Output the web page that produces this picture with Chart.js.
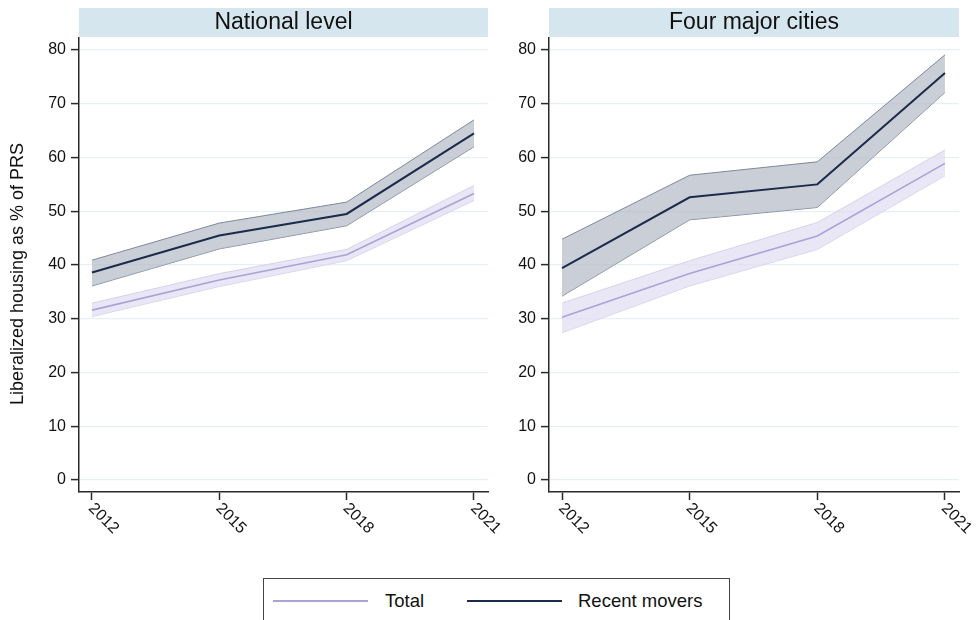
<!DOCTYPE html>
<html>
<head>
<meta charset="utf-8">
<script src="https://cdn.jsdelivr.net/npm/chart.js@4/dist/chart.umd.min.js"></script>
<style>
  html, body { margin: 0; padding: 0; background: #ffffff; }
  body { width: 977px; height: 620px; position: relative; overflow: hidden;
         font-family: "Liberation Sans", Arial, sans-serif; }
  #wrapL { position: absolute; left: 0; top: 0; width: 520px; height: 560px; }
  #wrapR { position: absolute; left: 490px; top: 0; width: 487px; height: 560px; }
  #legend { position: absolute; left: 263px; top: 578px; width: 467px; height: 60px;
            border: 1.5px solid #444; box-sizing: border-box; }
  .item { position: absolute; top: 10px; height: 24px; font-size: 18.5px; color: #111; line-height: 24px; }
  .swatch { position: absolute; top: 21px; height: 2px; }
</style>
</head>
<body>
<div id="wrapL"><canvas id="chartL"></canvas></div>
<div id="wrapR"><canvas id="chartR"></canvas></div>
<div id="legend"></div>

<script>
// Survey years and axis ticks
const years = [2012, 2015, 2018, 2021];
const yTicks = [0, 10, 20, 30, 40, 50, 60, 70, 80];
const panelTitles = ["National level", "Four major cities"];
const seriesNames = ["Total", "Recent movers"];
const yAxisTitle = "Liberalized housing as % of PRS";

// National level: point estimates with 95% confidence bounds
const natTotal      = [31.6, 37.2, 41.9, 53.3];
const natTotalLow   = [30.4, 36.0, 40.8, 52.0];
const natTotalHigh  = [32.9, 38.4, 42.9, 54.8];
const natMovers     = [38.6, 45.5, 49.5, 64.5];
const natMoversLow  = [36.1, 43.0, 47.3, 62.0];
const natMoversHigh = [40.9, 47.8, 51.7, 67.0];

// Four major cities
const cityTotal      = [30.3, 38.4, 45.4, 58.9];
const cityTotalLow   = [27.4, 36.1, 42.9, 56.6];
const cityTotalHigh  = [32.9, 40.8, 47.9, 61.4];
const cityMovers     = [39.4, 52.6, 55.0, 75.7];
const cityMoversLow  = [34.2, 48.4, 50.7, 72.1];
const cityMoversHigh = [44.8, 56.7, 59.2, 79.1];

const FONT = '"Liberation Sans", Arial, sans-serif';
const COL = {
  totalLine: '#aaa3d6',
  totalBand: 'rgba(226, 222, 243, 0.75)',
  totalEdge: '#d6d1ec',
  moversLine: '#1c2b4b',
  moversBand: 'rgba(180, 187, 200, 0.72)',
  moversEdge: '#7e889a',
  grid: '#e6f0f4',
  strip: '#d6e6ee',
  axis: '#2a2a2a'
};

function pts(vals) { return years.map((y, i) => ({ x: y, y: vals[i] })); }

function buildDatasets(tot, totLo, totHi, mov, movLo, movHi) {
  return [
    { label: 'tHigh', data: pts(totHi), borderColor: COL.totalEdge, borderWidth: 1,
      backgroundColor: COL.totalBand, fill: '+1', pointRadius: 0, order: 4 },
    { label: 'tLow', data: pts(totLo), borderColor: COL.totalEdge, borderWidth: 1,
      fill: false, pointRadius: 0, order: 4 },
    { label: 'mHigh', data: pts(movHi), borderColor: COL.moversEdge, borderWidth: 1,
      backgroundColor: COL.moversBand, fill: '+1', pointRadius: 0, order: 3 },
    { label: 'mLow', data: pts(movLo), borderColor: COL.moversEdge, borderWidth: 1,
      fill: false, pointRadius: 0, order: 3 },
    { label: seriesNames[0], data: pts(tot), borderColor: COL.totalLine, borderWidth: 1.6,
      fill: false, pointRadius: 0, order: 2 },
    { label: seriesNames[1], data: pts(mov), borderColor: COL.moversLine, borderWidth: 2,
      fill: false, pointRadius: 0, order: 1 }
  ];
}

// Panel header strip drawn above the plot area
const stripPlugin = {
  id: 'strip',
  beforeDraw(chart, args, opts) {
    const { ctx, chartArea } = chart;
    ctx.save();
    ctx.fillStyle = COL.strip;
    ctx.fillRect(chartArea.left, 8, chartArea.right - chartArea.left, 29);
    ctx.fillStyle = '#111';
    ctx.font = '23px ' + FONT;
    ctx.textAlign = 'center';
    ctx.textBaseline = 'middle';
    ctx.fillText(opts.text, (chartArea.left + chartArea.right) / 2, 23);
    ctx.restore();
  }
};

// Year labels, slanted downward to the right from each tick
const slantLabels = {
  id: 'slantLabels',
  afterDraw(chart) {
    const { ctx, chartArea } = chart;
    const xs = chart.scales.x;
    ctx.save();
    ctx.fillStyle = '#111';
    ctx.font = '16px ' + FONT;
    ctx.textAlign = 'left';
    ctx.textBaseline = 'middle';
    years.forEach(yr => {
      const px = xs.getPixelForValue(yr);
      ctx.save();
      ctx.translate(px - 1, chartArea.bottom + 14);
      ctx.rotate(Math.PI / 4);
      ctx.fillText(String(yr), 0, 0);
      ctx.restore();
    });
    ctx.restore();
  }
};

// Vertical axis caption on the left panel
const yCaption = {
  id: 'yCaption',
  afterDraw(chart, args, opts) {
    if (!opts.show) return;
    const { ctx } = chart;
    ctx.save();
    ctx.fillStyle = '#111';
    ctx.font = '18px ' + FONT;
    ctx.textAlign = 'center';
    ctx.textBaseline = 'middle';
    ctx.translate(18, 274);
    ctx.rotate(-Math.PI / 2);
    ctx.fillText(yAxisTitle, 0, 0);
    ctx.restore();
  }
};

function makeChart(id, title, datasets, yWidth, padRight, showCaption) {
  return new Chart(document.getElementById(id), {
    type: 'line',
    data: { datasets },
    plugins: [stripPlugin, slantLabels, yCaption],
    options: {
      responsive: true,
      maintainAspectRatio: false,
      animation: false,
      layout: { padding: { top: 38, right: padRight, bottom: 0, left: 0 } },
      elements: { line: { tension: 0 } },
      plugins: {
        legend: { display: false },
        tooltip: { enabled: false },
        strip: { text: title },
        yCaption: { show: showCaption }
      },
      scales: {
        x: {
          type: 'linear',
          min: 2011.694,
          max: 2021.33,
          afterBuildTicks: s => { s.ticks = years.map(v => ({ value: v })); },
          afterFit: s => { s.height = 68; },
          ticks: { display: false },
          grid: { drawOnChartArea: false, drawTicks: true, tickLength: 8,
                  tickColor: COL.axis, tickWidth: 1.5 },
          border: { display: true, color: COL.axis, width: 1.5 }
        },
        y: {
          type: 'linear',
          min: -2.233,
          max: 82.233,
          afterBuildTicks: s => { s.ticks = yTicks.map(v => ({ value: v })); },
          afterFit: s => { s.width = yWidth; },
          ticks: { color: '#111', font: { family: FONT, size: 16 }, padding: 5 },
          grid: { color: COL.grid, lineWidth: 1.2, drawTicks: true, tickLength: 8,
                  tickColor: COL.axis, tickWidth: 1.5 },
          border: { display: true, color: COL.axis, width: 1.5 }
        }
      }
    }
  });
}

makeChart('chartL', panelTitles[0],
  buildDatasets(natTotal, natTotalLow, natTotalHigh, natMovers, natMoversLow, natMoversHigh),
  79, 32, true);
makeChart('chartR', panelTitles[1],
  buildDatasets(cityTotal, cityTotalLow, cityTotalHigh, cityMovers, cityMoversLow, cityMoversHigh),
  59, 18, false);

// Legend keyed to the two series
const legend = document.getElementById('legend');
const legendItems = [
  { name: seriesNames[0], color: COL.totalLine, lineLeft: 9, textLeft: 121 },
  { name: seriesNames[1], color: COL.moversLine, lineLeft: 203, textLeft: 314 }
];
legendItems.forEach(it => {
  const sw = document.createElement('div');
  sw.className = 'swatch';
  sw.style.left = it.lineLeft + 'px';
  sw.style.width = '95px';
  sw.style.background = it.color;
  legend.appendChild(sw);
  const tx = document.createElement('div');
  tx.className = 'item';
  tx.style.left = it.textLeft + 'px';
  tx.textContent = it.name;
  legend.appendChild(tx);
});
</script>
</body>
</html>
